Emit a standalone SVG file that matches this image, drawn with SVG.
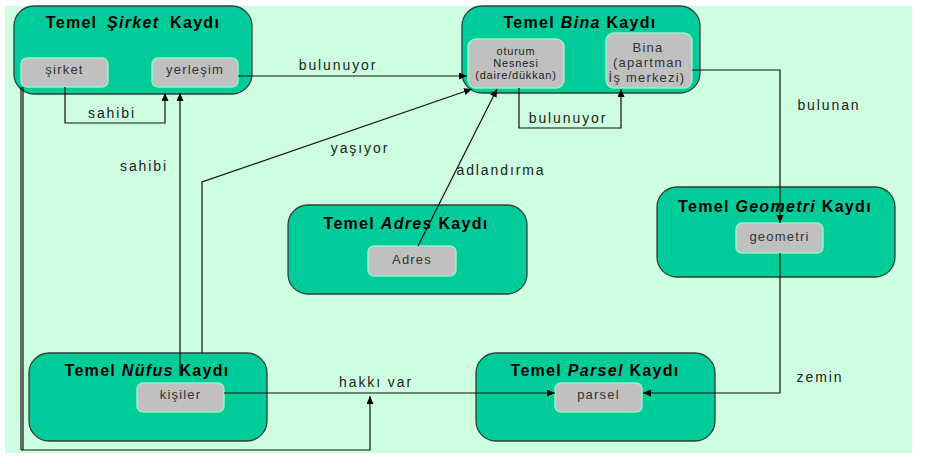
<svg xmlns="http://www.w3.org/2000/svg" width="927" height="464" viewBox="0 0 927 464">
<style>
.bg{fill:#CDFEE0}
.box{fill:#00CC99;stroke:#2F3F3A;stroke-width:1.3}
.item{fill:#C0C0C0;stroke:#8EF5C8;stroke-width:1.5}
.title{font-family:"Liberation Sans",Arial,sans-serif;font-size:16px;font-weight:bold;letter-spacing:1.3px;fill:#000;text-anchor:middle}
.title .em{font-style:italic}
.it{font-family:"Liberation Sans",Arial,sans-serif;font-size:13px;letter-spacing:1.2px;fill:#333;text-anchor:middle}
.sm{font-family:"Liberation Sans",Arial,sans-serif;font-size:11px;letter-spacing:0.8px;fill:#222;text-anchor:middle}
.lbl{font-family:"Liberation Sans",Arial,sans-serif;font-size:14px;letter-spacing:1.9px;fill:#222;text-anchor:middle}
.ln{fill:none;stroke:#111;stroke-width:1.2}
</style>
<defs>
<marker id="arr" markerWidth="9" markerHeight="8" refX="8" refY="3.5" orient="auto" markerUnits="userSpaceOnUse">
<path d="M0,0 L8,3.5 L0,7 z" fill="#000"/>
</marker>
</defs>
<rect class="bg" x="5" y="6" width="907" height="447"/>

<g id="sirket">
<rect class="box" x="14" y="6" width="238" height="88" rx="20"/>
<text class="title" x="133" y="28">Temel<tspan class="em" dx="4"> Şirket</tspan><tspan dx="5"> Kaydı</tspan></text>
<rect class="item" x="21" y="58" width="87" height="29" rx="6"/>
<text class="it" x="64.5" y="74">şirket</text>
<rect class="item" x="152" y="58" width="86" height="29" rx="6"/>
<text class="it" x="195" y="74">yerleşim</text>
</g>

<g id="bina">
<rect class="box" x="462" y="6" width="238" height="87" rx="20"/>
<text class="title" x="580" y="28">Temel <tspan class="em">Bina</tspan> Kaydı</text>
<rect class="item" x="468" y="39" width="96" height="49" rx="8"/>
<text class="sm" x="516" y="55">oturum</text>
<text class="sm" x="516" y="67">Nesnesi</text>
<text class="sm" x="516" y="79">(daire/dükkan)</text>
<rect class="item" x="606" y="33" width="86" height="55" rx="8"/>
<text class="it" x="648" y="52">Bina</text>
<text class="it" x="648" y="67">(apartman</text>
<text class="it" x="647" y="82">İş merkezi)</text>
</g>

<g id="adres">
<rect class="box" x="288" y="205" width="239" height="89" rx="20"/>
<text class="title" x="406" y="229">Temel <tspan class="em">Adres</tspan> Kaydı</text>
<rect class="item" x="368" y="246" width="88" height="30" rx="6"/>
<text class="it" x="412" y="264">Adres</text>
</g>

<g id="geometri">
<rect class="box" x="657" y="187" width="238" height="90" rx="20"/>
<text class="title" x="775" y="212">Temel <tspan class="em">Geometri</tspan> Kaydı</text>
<rect class="item" x="736" y="223" width="87" height="30" rx="6"/>
<text class="it" x="779.5" y="241">geometri</text>
</g>

<g id="nufus">
<rect class="box" x="29" y="353" width="238" height="88" rx="20"/>
<text class="title" x="147" y="376">Temel <tspan class="em">Nüfus</tspan> Kaydı</text>
<rect class="item" x="137" y="383" width="87" height="29" rx="6"/>
<text class="it" x="180.5" y="399">kişiler</text>
</g>

<g id="parsel">
<rect class="box" x="476" y="353" width="239" height="88" rx="20"/>
<text class="title" x="595" y="376">Temel <tspan class="em">Parsel</tspan> Kaydı</text>
<rect class="item" x="555" y="383" width="87" height="29" rx="6"/>
<text class="it" x="598.5" y="399">parsel</text>
</g>

<g id="connectors">
<path class="ln" d="M238,76 H467" marker-end="url(#arr)"/>
<text class="lbl" x="338" y="70">bulunuyor</text>
<path class="ln" d="M65,87 V123 H165 V93" marker-end="url(#arr)"/>
<text class="lbl" x="112" y="118">sahibi</text>
<path class="ln" d="M180,376 V93" marker-end="url(#arr)"/>
<text class="lbl" x="144" y="171">sahibi</text>
<path class="ln" d="M202,353 V182 L472,89" marker-end="url(#arr)" stroke="#333"/>
<text class="lbl" x="360" y="153">yaşıyor</text>
<path class="ln" d="M418,246 L497,89" marker-end="url(#arr)"/>
<text class="lbl" x="501" y="175">adlandırma</text>
<path class="ln" d="M519,88 V128 H621 V89" marker-end="url(#arr)"/>
<text class="lbl" x="568" y="123">bulunuyor</text>
<path class="ln" d="M692,70 H780 V223" marker-end="url(#arr)"/>
<text class="lbl" x="829" y="110">bulunan</text>
<path class="ln" d="M780,253 V393 H643" marker-end="url(#arr)"/>
<text class="lbl" x="820" y="382">zemin</text>
<path class="ln" d="M224,393 H555" marker-end="url(#arr)"/>
<text class="lbl" x="376" y="387">hakkı var</text>
<path class="ln" d="M21,87 V450"/>
<path class="ln" d="M23,87 V450 H370 V396" marker-end="url(#arr)"/>
<path class="ln" d="M21,450 H23"/>
</g>
</svg>
